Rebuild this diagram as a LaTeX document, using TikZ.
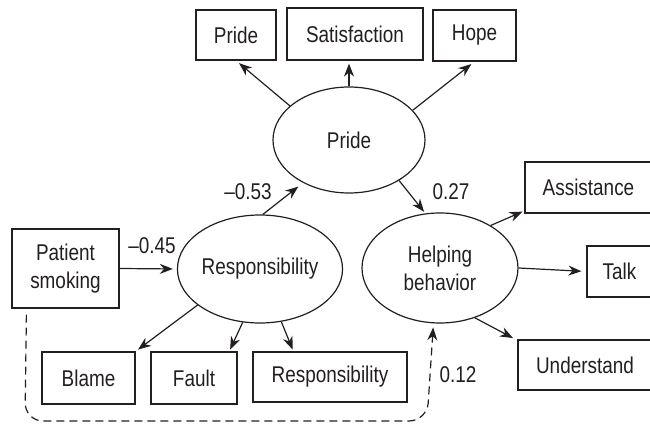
\documentclass[tikz,border=0pt]{standalone}
\usepackage{fontspec}
\setmainfont{Liberation Sans}[FakeStretch=0.83]
\usetikzlibrary{shapes.geometric, arrows.meta, positioning, calc}
\definecolor{inkgray}{RGB}{35, 31, 32}

\begin{document}
\begin{tikzpicture}[x=0.5pt, y=-0.5pt,
  every node/.style={font=\fontsize{11.4}{14}\selectfont, text=inkgray},
  mbox/.style={draw=inkgray, line width=0.6pt, rectangle, inner sep=0pt},
  latent/.style={draw=inkgray, line width=0.6pt, ellipse, inner sep=0pt},
  link/.style={draw=inkgray, line width=0.6pt, -{Stealth[length=6.5pt, width=5pt]}},
  dep/.style={link, dash pattern=on 4pt off 2.5pt}]

\useasboundingbox (0,0) rectangle (650,427);

% ============================================================
% 潜变量
% ============================================================
\node[latent, minimum width=76pt, minimum height=53pt] (pride) at (349,140) {Pride};
\node[latent, minimum width=77pt, minimum height=54pt] (resp) at (260,269) {Responsibility};
\node[latent, minimum width=78pt, minimum height=55pt, align=center] (help) at (440,268) {Helping\\behavior};

% 观测变量（上）
\node[mbox, minimum width=40pt, minimum height=25pt] (pbox) at (236,35) {Pride};
\node[mbox, minimum width=68pt, minimum height=26pt] (sbox) at (355,34) {Satisfaction};
\node[mbox, minimum width=41.5pt, minimum height=25.5pt] (hbox) at (474.5,35.5) {Hope};

% 观测变量（右，右边框在图外）
\node[mbox, minimum width=63.5pt, minimum height=25.5pt] (abox) at (588.5,187.5) {Assistance};
\node[mbox, minimum width=32.5pt, minimum height=25.5pt] (tbox) at (619.5,271.5) {Talk};
\node[mbox, minimum width=67pt, minimum height=25pt] (ubox) at (585,365) {Understand};

% 观测变量（下）
\node[mbox, minimum width=46.5pt, minimum height=26pt] (blame) at (88.5,378) {Blame};
\node[mbox, minimum width=43pt, minimum height=26pt] (fault) at (194,378) {Fault};
\node[mbox, minimum width=77pt, minimum height=25pt] (rbox) at (330,377) {Responsibility};

% 外生变量
\node[mbox, minimum width=53.5pt, minimum height=39.5pt, align=center] (smk) at (65.5,268.5) {Patient\\smoking};

% ============================================================
% 路径
% ============================================================
\draw[link, shorten >=2pt] (pride.150) -- (pbox.south);
\draw[link, shorten >=1.5pt] (pride.north) -- (pride.north |- sbox.south);
\draw[link, shorten >=2pt] (pride.25) -- (hbox.south);

\draw[link, shorten >=1pt] (help.40) -- (abox.200);
\draw[link, shorten >=2.5pt] (help.east) -- (tbox.west);
\draw[link, shorten >=2.5pt] (help.305) -- (ubox.160);

\draw[link, shorten >=1.5pt] (resp.210) -- (blame.north east);
\draw[link, shorten >=1pt] (resp.252) -- (fault.37);
\draw[link, shorten >=1pt] (resp.292) -- (rbox.145);

\draw[link, shorten >=2pt] (smk.east) -- (resp.west);
\draw[link, shorten >=3pt] (resp.87) -- (pride.223);
\draw[link, shorten >=1pt] (pride.321) -- (help.105);

% 直接效应（虚线）
\coordinate (lowL) at (25,421);
\coordinate (lowR) at (427,421);
\draw[dep, rounded corners=9pt] ([xshift=7.5pt, yshift=-3pt]smk.south west) -- (lowL) -- (lowR) -- ([yshift=-2pt]help.263);

% 系数
\node (c45) at (152,246) {--0.45};
\node (c53) at (248,192) {--0.53};
\node (c27) at (451,192) {0.27};
\node (c12) at (458,375) {0.12};

\end{tikzpicture}
\end{document}
